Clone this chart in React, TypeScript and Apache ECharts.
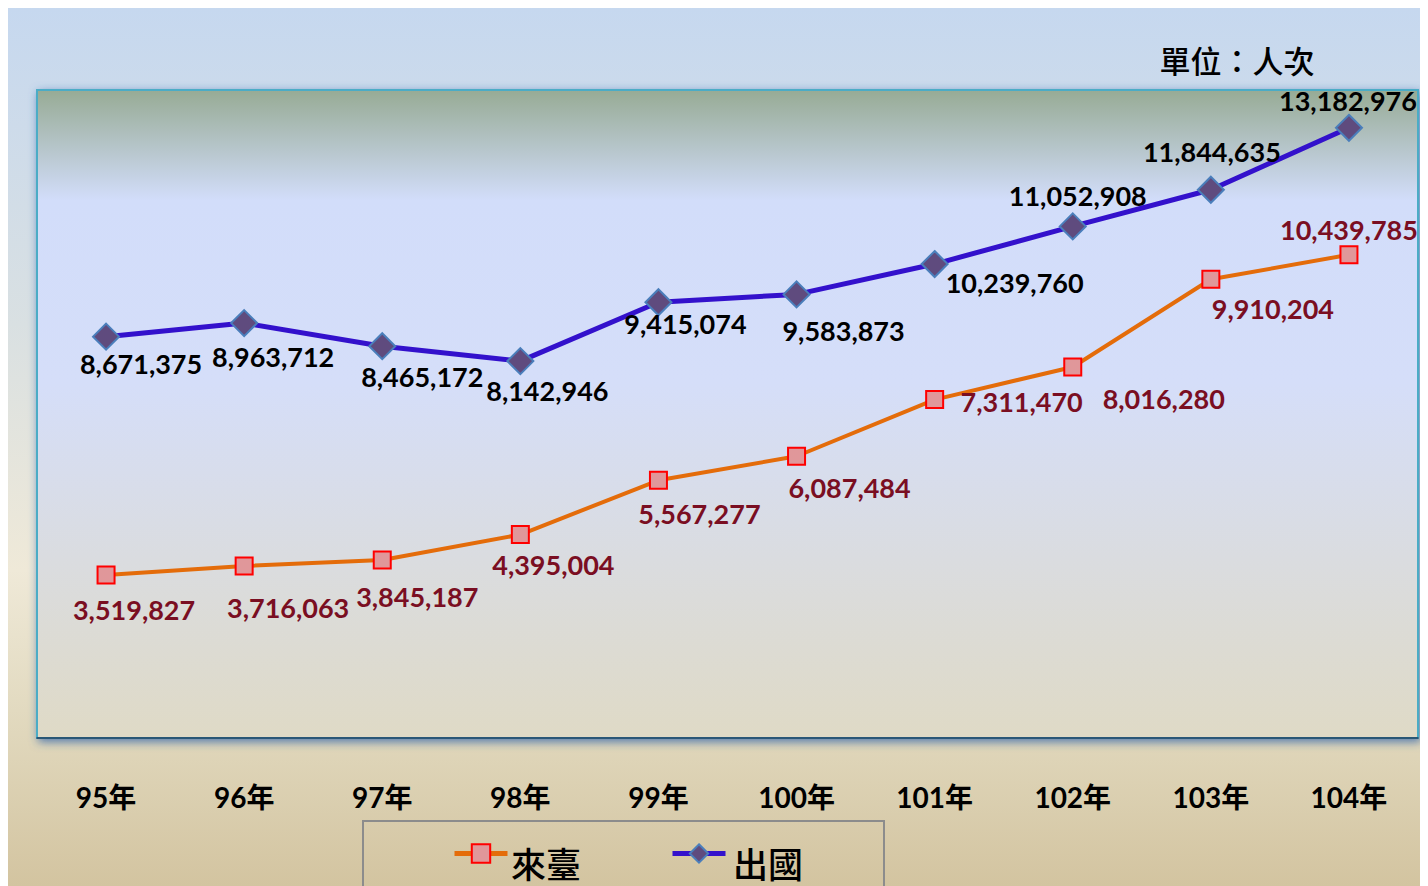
import React, { useEffect, useRef } from "react";
import * as echarts from "echarts";

const categories = ["95年", "96年", "97年", "98年", "99年", "100年", "101年", "102年", "103年", "104年"];
const inbound = [3519827, 3716063, 3845187, 4395004, 5567277, 6087484, 7311470, 8016280, 9910204, 10439785];
const outbound = [8671375, 8963712, 8465172, 8142946, 9415074, 9583873, 10239760, 11052908, 11844635, 13182976];
const seriesNames = ["來臺", "出國"];
const unitText = "單位：人次";

// label placement offsets (layout only)
const outOffsets = [[35, 27], [29, 33], [40, 30], [27, 29], [27, 21], [47, 36], [80, 18], [5, -31], [1, -38], [-1, -27]];
const inOffsets = [[28, 34], [44, 42], [35, 36], [33, 30], [41, 33], [53, 31], [87, 2], [91, 32], [62, 29], [0, -25]];

const fmt = (v: number) => v.toLocaleString("en-US");

export default function App() {
  const ref = useRef<HTMLDivElement>(null);
  useEffect(() => {
    if (!ref.current) return;
    const chart = echarts.init(ref.current, null, { renderer: "svg" });
    const lab = (color: string) => ({
      show: true,
      position: "inside",
      color,
      fontFamily: "Lato, 'Open Sans', sans-serif",
      fontWeight: "bold",
      fontSize: 27,
      formatter: (p: any) => fmt(p.value),
    });
    const legendCommon = {
      top: 829,
      padding: 5,
      itemWidth: 53,
      itemHeight: 23,
      formatter: () => "",
      textStyle: { fontSize: 1 },
    };
    const legendText = (x: number, t: string) => ({
      type: "text",
      x,
      y: 854,
      style: {
        text: t,
        fontSize: 35,
        fontFamily: "'Noto Sans CJK TC', sans-serif",
        fontWeight: 500,
        fill: "#000",
        align: "left",
        verticalAlign: "middle",
      },
    });
    chart.setOption({
      animation: false,
      backgroundColor: "transparent",
      grid: {
        show: true,
        left: 29,
        right: 8,
        top: 82,
        bottom: 148,
        backgroundColor: new echarts.graphic.LinearGradient(0, 0, 0, 1, [
          { offset: 0, color: "#97AB95" },
          { offset: 0.17, color: "#D2DDFA" },
          { offset: 0.45, color: "#D5DEF9" },
          { offset: 1, color: "#DFDAC6" },
        ]),
        borderColor: "#4BACC6",
        borderWidth: 2,
        shadowBlur: 10,
        shadowColor: "rgba(50,100,170,0.8)",
        shadowOffsetX: 2,
        shadowOffsetY: 3,
      },
      graphic: [
        {
          type: "text",
          x: 1229,
          y: 51,
          style: {
            text: unitText,
            fontSize: 31,
            fontFamily: "'Noto Sans CJK TC', sans-serif",
            fontWeight: 500,
            fill: "#000",
            align: "center",
            verticalAlign: "middle",
          },
        },
        {
          type: "rect",
          shape: { x: 355, y: 813, width: 521, height: 100 },
          style: { fill: "transparent", stroke: "#8C8C8C", lineWidth: 2 },
        },
        legendText(503, seriesNames[0]),
        legendText(725, seriesNames[1]),
      ],
      legend: [
        {
          ...legendCommon,
          left: 439,
          data: [{ name: seriesNames[0], lineStyle: { width: 5, color: "#E46C0A" } }],
        },
        {
          ...legendCommon,
          left: 657,
          data: [{ name: seriesNames[1], lineStyle: { width: 5, color: "#3311CC" } }],
        },
      ],
      xAxis: {
        type: "category",
        data: categories,
        boundaryGap: true,
        axisLine: { show: true, lineStyle: { color: "#1F3B5C", width: 1.5 } },
        axisTick: { show: false },
        axisLabel: {
          margin: 45,
          color: "#000",
          fontSize: 28,
          fontWeight: "bold",
          fontFamily: "Lato, 'Noto Sans CJK TC', sans-serif",
        },
        splitLine: { show: false },
      },
      yAxis: {
        type: "value",
        min: 0,
        max: 14000000,
        show: false,
        splitLine: { show: false },
      },
      series: [
        {
          name: seriesNames[0],
          type: "line",
          data: inbound.map((v, i) => ({ value: v, label: { offset: inOffsets[i] } })),
          symbol: "rect",
          symbolSize: 17,
          lineStyle: { color: "#E46C0A", width: 4 },
          itemStyle: { color: "#E0979A", borderColor: "#FF0000", borderWidth: 2 },
          label: lab("#7A0E22"),
          z: 3,
        },
        {
          name: seriesNames[1],
          type: "line",
          data: outbound.map((v, i) => ({ value: v, label: { offset: outOffsets[i] } })),
          symbol: "diamond",
          symbolSize: 26,
          lineStyle: { color: "#3311CC", width: 5 },
          itemStyle: { color: "#5F4B7E", borderColor: "#4A7EBB", borderWidth: 2 },
          label: lab("#000000"),
          z: 4,
        },
      ],
    });
    return () => chart.dispose();
  }, []);
  return (
    <div
      ref={ref}
      style={{
        width: 1418,
        height: 878,
        background:
          "linear-gradient(to bottom, #C6D8EF 0%, #D9E0E2 36%, #EFE9D8 64%, #E2DAC0 80%, #D3C4A0 100%)",
      }}
    />
  );
}
